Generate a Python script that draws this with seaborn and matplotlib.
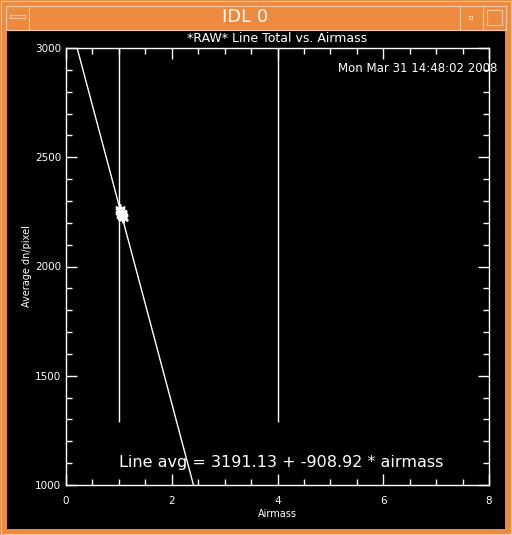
import numpy as np
import pandas as pd
import matplotlib
matplotlib.use("Agg")
import matplotlib.pyplot as plt
import seaborn as sns
from matplotlib.patches import Rectangle
from matplotlib.ticker import MultipleLocator

# data
airmass = [1.02, 1.03, 1.04, 1.05, 1.05, 1.06, 1.07, 1.08, 1.04, 1.06]
line_total = [2262, 2252, 2246, 2240, 2232, 2236, 2228, 2220, 2235, 2244]
intercept = 3191.13
slope = -908.92
marker_x = [1, 4]
marker_ymin = 1290
marker_ymax = 3000
xlim = (0, 8)
ylim = (1000, 3000)
title = "*RAW* Line Total vs. Airmass"
date_text = "Mon Mar 31 14:48:02 2008"
fit_text = "Line avg = 3191.13 + -908.92 * airmass"

sns.set_style("dark")
plt.rcParams['font.family'] = ['DejaVu Sans']

W, H = 512, 535
fig = plt.figure(figsize=(W / 100, H / 100), dpi=100)
orange = "#EE8A40"
fig.patch.set_facecolor(orange)

def px(x, y, w, h, **kw):
    r = Rectangle((x / W, 1 - (y + h) / H), w / W, h / H, transform=fig.transFigure,
                  zorder=-10, **kw)
    fig.add_artist(r)

# black panel
px(7, 30, 498, 499, facecolor="black", edgecolor="none")
# frame lines
lc = "#F8C8A0"
px(1, 1, 510, 533, facecolor="none", edgecolor=lc, linewidth=0.8)
px(6, 6, 500, 24, facecolor="none", edgecolor=lc, linewidth=0.8)
px(6, 6, 23, 24, facecolor="none", edgecolor=lc, linewidth=0.8)
px(483, 6, 23, 24, facecolor="none", edgecolor=lc, linewidth=0.8)
px(460, 6, 23, 24, facecolor="none", edgecolor=lc, linewidth=0.8)
px(10, 15, 15, 3, facecolor="none", edgecolor=lc, linewidth=0.8)
px(487, 10, 15, 15, facecolor="none", edgecolor=lc, linewidth=0.8)
px(469, 16, 3, 3, facecolor="none", edgecolor=lc, linewidth=0.8)
fig.text(245 / W, 1 - 17 / H, "IDL 0", color="white", fontsize=13, ha="center", va="center")

ax = fig.add_axes([66 / W, 1 - 485 / H, 423 / W, 437 / H])
ax.set_facecolor("black")

xs = np.array(xlim, dtype=float)
fit_df = pd.DataFrame({"airmass": xs, "fit": intercept + slope * xs})
sns.lineplot(data=fit_df, x="airmass", y="fit", ax=ax, color="white", linewidth=1.0)
ax.vlines(marker_x, marker_ymin, marker_ymax, color="white", linewidth=1.0)
pts = pd.DataFrame({"airmass": airmass, "total": line_total})
sns.scatterplot(data=pts, x="airmass", y="total", ax=ax, marker=(6, 2, 0), s=45,
                color="white", edgecolor="white", linewidth=1.2)

ax.set_xlim(*xlim)
ax.set_ylim(*ylim)
ax.xaxis.set_major_locator(MultipleLocator(2))
ax.xaxis.set_minor_locator(MultipleLocator(0.5))
ax.yaxis.set_major_locator(MultipleLocator(500))
ax.yaxis.set_minor_locator(MultipleLocator(100))
ax.tick_params(which="both", direction="in", colors="white", top=True, right=True,
               bottom=True, left=True, labelsize=7.5, width=1.0)
ax.tick_params(which="major", length=8)
ax.tick_params(which="minor", length=4)
ax.tick_params(axis="x", pad=8)
for s in ax.spines.values():
    s.set_color("white")
    s.set_linewidth(1.0)
    s.set_visible(True)
ax.grid(False)
ax.set_xlabel("Airmass", color="white", fontsize=7, labelpad=2)
ax.set_ylabel("Average dn/pixel", color="white", fontsize=7, labelpad=2)
ax.set_title(title, color="white", fontsize=9, pad=4)
ax.text(497 / W, 1 - 68 / H, date_text, transform=fig.transFigure, color="white",
        fontsize=8.5, ha="right", va="center")
ax.text(119 / W, 1 - 463 / H, fit_text, transform=fig.transFigure, color="white",
        fontsize=11.5, ha="left", va="center")

fig.savefig("out.png", dpi=100, facecolor=fig.get_facecolor())
